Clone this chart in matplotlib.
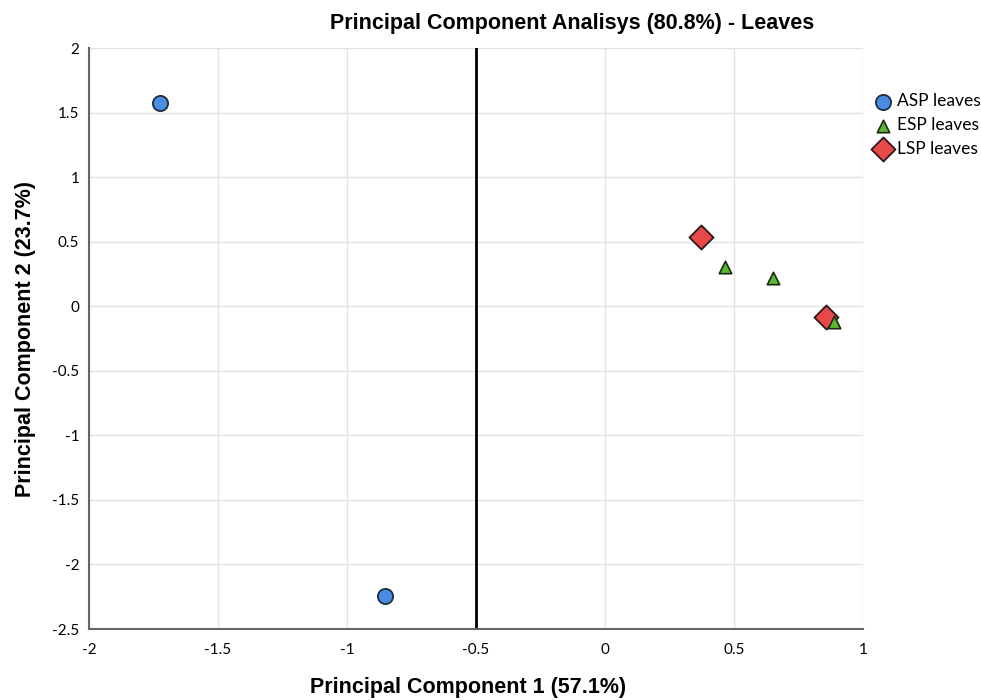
import matplotlib.pyplot as plt

# PCA scores per group (PC1, PC2)
asp_pc1 = [-1.725, -0.853]
asp_pc2 = [1.573, -2.243]
esp_pc1 = [0.465, 0.651, 0.888]
esp_pc2 = [0.306, 0.221, -0.121]
lsp_pc1 = [0.372, 0.857]
lsp_pc2 = [0.539, -0.082]

xticks = [-2, -1.5, -1, -0.5, 0, 0.5, 1]
yticks = [-2.5, -2, -1.5, -1, -0.5, 0, 0.5, 1, 1.5, 2]

fig = plt.figure(figsize=(9.81, 7.0), dpi=100)
ax = fig.add_axes([0.0907, 0.1014, 0.789, 0.83])

ax.scatter(asp_pc1, asp_pc2, s=120, marker='o', color='#4a8be3', edgecolors='#1f2d3d',
           linewidths=1.3, label='ASP leaves', zorder=3)
ax.scatter(lsp_pc1, lsp_pc2, s=150, marker='D', color='#e84848', edgecolors='#2a1a1a',
           linewidths=1.3, label='LSP leaves', zorder=3)
ax.scatter(esp_pc1, esp_pc2, s=80, marker='^', color='#5cb832', edgecolors='#1a2a10',
           linewidths=1.2, label='ESP leaves', zorder=4)

ax.axvline(-0.5, color='black', lw=2, zorder=2)

ax.set_xlim(-2, 1)
ax.set_ylim(-2.5, 2)
ax.set_xticks(xticks)
ax.set_yticks(yticks)
ax.set_xticklabels([f'{t:g}' for t in xticks], family='Lato', fontsize=11)
ax.set_yticklabels([f'{t:g}' for t in yticks], family='Lato', fontsize=11)
ax.tick_params(length=0)
ax.tick_params(axis='x', pad=10)
ax.tick_params(axis='y', pad=7)
ax.grid(True, color='#e2e2e2', lw=1)
ax.set_axisbelow(True)
for s in ['top', 'right']:
    ax.spines[s].set_visible(False)
for s in ['left', 'bottom']:
    ax.spines[s].set_color('#666666')
    ax.spines[s].set_linewidth(1.5)

ax.set_xlabel('Principal Component 1 (57.1%)', family='Liberation Sans', fontweight='bold',
              fontsize=15.5, va='center')
ax.xaxis.set_label_coords(0.49, -0.1015)
ax.set_ylabel('Principal Component 2 (23.7%)', family='Liberation Sans', fontweight='bold',
              fontsize=15.5, va='center')
ax.yaxis.set_label_coords(-0.082, 0.5)
fig.text(0.583, 0.966, 'Principal Component Analisys (80.8%) - Leaves', ha='center', va='center',
         family='Liberation Sans', fontweight='bold', fontsize=15.5)

handles, labels = ax.get_legend_handles_labels()
order = [0, 2, 1]
ax.legend([handles[i] for i in order], [labels[i] for i in order], loc='upper left',
          bbox_to_anchor=(0.993, 0.943), frameon=False, prop={'family': 'Lato', 'size': 12.5},
          handletextpad=0.05, labelspacing=0.45, borderaxespad=0.3, handlelength=1.5)

fig.savefig('out.png', dpi=100)
